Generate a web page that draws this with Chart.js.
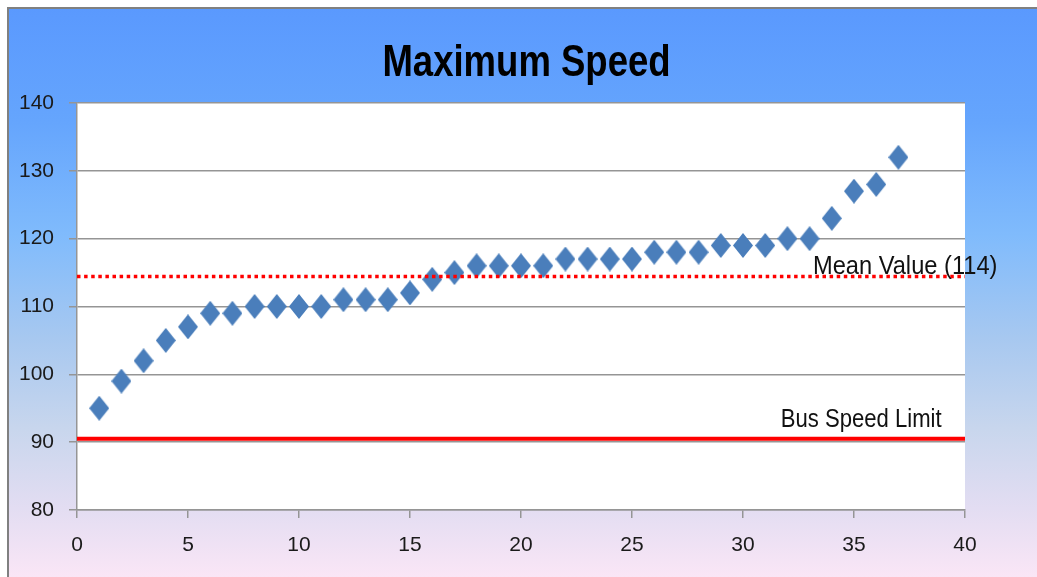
<!DOCTYPE html>
<html>
<head>
<meta charset="utf-8">
<script src="https://cdn.jsdelivr.net/npm/chart.js@4/dist/chart.umd.min.js"></script>
<style>
  html, body { margin: 0; padding: 0; background: #ffffff; }
  canvas { display: block; }
</style>
</head>
<body>
<canvas id="speedChart" width="1037" height="577"></canvas>
<script>
// Run number and the maximum speed recorded on each run
const runIndex = [1, 2, 3, 4, 5, 6, 7, 8, 9, 10, 11, 12, 13, 14, 15, 16, 17, 18, 19,
                  20, 21, 22, 23, 24, 25, 26, 27, 28, 29, 30, 31, 32, 33, 34, 35, 36, 37];
const maxSpeed = [95, 99, 102, 105, 107, 109, 109, 110, 110, 110, 110, 111, 111, 111, 112, 114, 115, 116, 116,
                  116, 116, 117, 117, 117, 117, 118, 118, 118, 119, 119, 119, 120, 120, 123, 127, 128, 132];
const busSpeedLimit = 90.5;
const xTickValues = [0, 5, 10, 15, 20, 25, 30, 35, 40];
const yTickValues = [80, 90, 100, 110, 120, 130, 140];
const chartTitle = 'Maximum Speed';
const limitLabel = 'Bus Speed Limit';

const meanSpeed = maxSpeed.reduce((a, b) => a + b, 0) / maxSpeed.length;
const meanLabel = 'Mean Value (' + Math.round(meanSpeed) + ')';

const FONT = '"Liberation Sans", Arial, sans-serif';
const GRID = '#959595';

// Diamond marker, slightly taller than wide
function makeDiamond(w, h, color) {
  const c = document.createElement('canvas');
  c.width = w; c.height = h;
  const g = c.getContext('2d');
  g.fillStyle = color;
  g.beginPath();
  g.moveTo(w / 2, 0);
  g.lineTo(w, h / 2);
  g.lineTo(w / 2, h);
  g.lineTo(0, h / 2);
  g.closePath();
  g.fill();
  return c;
}
const diamond = makeDiamond(20, 25, '#4a7ebb');

// Page background: grey frame, blue-to-pink gradient, white plot area
const backdrop = {
  id: 'backdrop',
  beforeDraw(chart) {
    const { ctx, width, height, chartArea } = chart;
    ctx.save();
    ctx.fillStyle = '#ffffff';
    ctx.fillRect(0, 0, width, height);
    const grad = ctx.createLinearGradient(0, 8, 0, height);
    grad.addColorStop(0.00, '#5a99fe');
    grad.addColorStop(0.20, '#65a5fd');
    grad.addColorStop(0.40, '#80bbfc');
    grad.addColorStop(0.58, '#a7c8f0');
    grad.addColorStop(0.74, '#c8d6ed');
    grad.addColorStop(0.88, '#e3ddf2');
    grad.addColorStop(1.00, '#fae6f6');
    ctx.fillStyle = grad;
    ctx.fillRect(8, 8, width - 8, height - 8);
    ctx.fillStyle = '#808080';
    ctx.fillRect(7, 7, width - 7, 2);
    ctx.fillRect(7, 7, 2, height - 7);
    ctx.fillStyle = '#ffffff';
    ctx.fillRect(chartArea.left, chartArea.top, chartArea.right - chartArea.left, chartArea.bottom - chartArea.top);
    ctx.restore();
  }
};

// Draws text squeezed horizontally, for a condensed look
function condensedText(ctx, text, x, y, squeeze) {
  ctx.save();
  ctx.translate(x, y);
  ctx.scale(squeeze, 1);
  ctx.fillText(text, 0, 0);
  ctx.restore();
}

// Title and the two reference-line captions
const captions = {
  id: 'captions',
  afterDraw(chart) {
    const { ctx } = chart;
    const xs = chart.scales.x, ys = chart.scales.y;
    ctx.save();
    ctx.fillStyle = '#000000';
    ctx.textBaseline = 'alphabetic';
    ctx.textAlign = 'center';
    ctx.font = 'bold 44px ' + FONT;
    condensedText(ctx, chartTitle, 526.5, 76, 0.83);

    ctx.textAlign = 'left';
    ctx.font = '26px ' + FONT;
    ctx.fillStyle = '#111111';
    condensedText(ctx, meanLabel, xs.getPixelForValue(33.15), ys.getPixelForValue(meanSpeed) - 2.5, 0.91);
    condensedText(ctx, limitLabel, xs.getPixelForValue(31.7), ys.getPixelForValue(busSpeedLimit) - 11.5, 0.85);
    ctx.restore();
  }
};

const points = runIndex.map((x, i) => ({ x: x, y: maxSpeed[i] }));
const xMin = xTickValues[0], xMax = xTickValues[xTickValues.length - 1];

new Chart(document.getElementById('speedChart'), {
  type: 'scatter',
  data: {
    datasets: [
      {
        label: 'Maximum Speed',
        data: points,
        pointStyle: diamond,
        pointRadius: 10,
        showLine: false,
        order: 2
      },
      {
        type: 'line',
        label: meanLabel,
        data: [{ x: xMin, y: meanSpeed }, { x: xMax, y: meanSpeed }],
        borderColor: '#ff0000',
        borderWidth: 3.5,
        borderDash: [3.5, 3.6],
        pointRadius: 0,
        fill: false,
        order: 0
      },
      {
        type: 'line',
        label: limitLabel,
        data: [{ x: xMin, y: busSpeedLimit }, { x: xMax, y: busSpeedLimit }],
        borderColor: '#ff0000',
        borderWidth: 4,
        pointRadius: 0,
        fill: false,
        order: 1
      }
    ]
  },
  options: {
    responsive: false,
    animation: false,
    events: [],
    layout: { padding: { left: 8, top: 103, right: 72, bottom: 0 } },
    plugins: {
      legend: { display: false },
      tooltip: { enabled: false },
      title: { display: false }
    },
    scales: {
      x: {
        type: 'linear',
        min: xMin,
        max: xMax,
        afterBuildTicks(scale) { scale.ticks = xTickValues.map(v => ({ value: v })); },
        afterFit(scale) { scale.height = 67; },
        grid: { drawOnChartArea: false, drawTicks: true, tickLength: 8, color: GRID, lineWidth: 1.5 },
        border: { display: true, color: GRID, width: 1.5 },
        ticks: { color: '#1a1a1a', font: { family: FONT, size: 21 }, padding: 15, maxRotation: 0 }
      },
      y: {
        type: 'linear',
        min: yTickValues[0],
        max: yTickValues[yTickValues.length - 1],
        afterBuildTicks(scale) { scale.ticks = yTickValues.map(v => ({ value: v })); },
        afterFit(scale) { scale.width = 69; },
        grid: { drawOnChartArea: true, drawTicks: true, tickLength: 8, color: GRID, lineWidth: 1.5 },
        border: { display: true, color: GRID, width: 1.5 },
        ticks: { color: '#1a1a1a', font: { family: FONT, size: 21 }, padding: 15 }
      }
    }
  },
  plugins: [backdrop, captions]
});
</script>
</body>
</html>
